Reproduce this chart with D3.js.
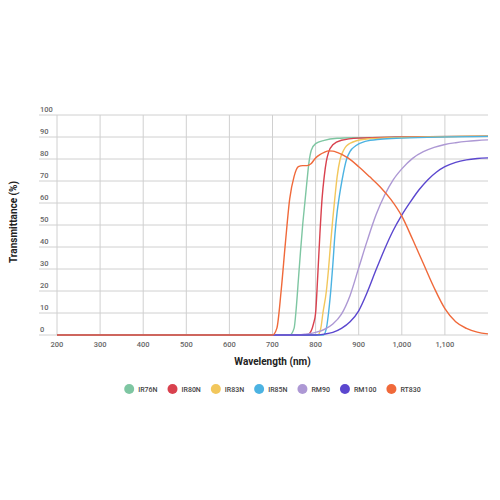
<!DOCTYPE html>
<html>
<head>
<meta charset="utf-8">
<script src="https://cdn.jsdelivr.net/npm/d3@7"></script>
<style>
  body { margin: 0; background: #fff; }
  text { font-family: Roboto, "Noto Sans", sans-serif; }
</style>
</head>
<body>
<svg id="chart" width="500" height="500"></svg>
<script>
// tick labels
var xTicks = [200, 300, 400, 500, 600, 700, 800, 900, 1000, 1100];
var yTicks = [0, 10, 20, 30, 40, 50, 60, 70, 80, 90, 100];

// series: [wavelength nm, transmittance %]
var IR76N = [[200,0],[740,0],[750,3],[755,12],[760,25],[765,38],[770,50],[775,60],[780,70],[785,79],[790,84],[800,87],[820,88.5],[850,89.4],[900,89.7],[1000,90],[1200,90.4]];
var IR80N = [[200,0],[780,0],[790,2],[795,5],[800,10],[805,27],[810,46],[815,62],[820,72],[825,79],[830,83],[840,86.5],[860,88.5],[900,89.5],[1000,90],[1200,90.4]];
var IR83N = [[200,0],[805,0],[812,3],[817,10],[825,20],[830,30],[835,42],[840,53],[845,63],[850,72],[857,80],[865,84],[872,86],[895,88.3],[930,89.3],[1000,89.8],[1200,90.4]];
var IR85N = [[200,0],[818,0],[825,3],[830,10],[836,22],[840,32],[845,46],[850,56],[855,63],[861,70],[872,80],[880,83.5],[893,86],[915,88],[950,89],[1000,89.5],[1200,90.3]];
var RM90  = [[200,0],[760,0],[780,0.5],[800,1.2],[820,2.5],[840,5],[860,9.5],[880,18],[900,30.5],[920,43],[940,54.5],[960,63.5],[980,70.5],[1000,75.5],[1025,80.3],[1050,83.3],[1075,85.3],[1100,86.6],[1125,87.4],[1150,88],[1175,88.4],[1200,88.7]];
var RM100 = [[200,0],[800,0],[820,0.4],[840,1.2],[860,3],[880,6],[900,11],[920,19.5],[940,29.5],[960,39],[980,47.5],[1000,54.5],[1020,60.5],[1040,66],[1060,70.5],[1080,74],[1100,76.5],[1125,78.5],[1150,79.6],[1175,80.2],[1200,80.5]];
var RT830 = [[200,0],[700,0],[710,3],[720,20],[730,42],[740,62],[750,72],[760,76.5],[770,77],[780,77],[790,78],[800,80.5],[810,82],[820,83],[830,83.7],[840,83.6],[850,83],[875,80.5],[900,76.5],[925,72],[950,67.3],[975,61.5],[1000,54],[1025,43.5],[1050,32.5],[1075,21.5],[1100,12],[1125,6],[1150,3],[1175,1.3],[1200,0.5]];

var seriesNames = ["IR76N", "IR80N", "IR83N", "IR85N", "RM90", "RM100", "RT830"];
var seriesData = [IR76N, IR80N, IR83N, IR85N, RM90, RM100, RT830];
var seriesColors = ["#7ec6a2", "#d9414e", "#f2c75c", "#4cb3e2", "#ad98d4", "#5b47cf", "#f0693a"];

var svg = d3.select("#chart");
var x = d3.scaleLinear().domain([200, 1200]).range([57, 488]);
var y = d3.scaleLinear().domain([0, 100]).range([335, 115]);

// grid
svg.append("g").selectAll("line.h")
  .data(yTicks).enter().append("line")
  .attr("x1", 39).attr("x2", x(1200))
  .attr("y1", d => y(d)).attr("y2", d => y(d))
  .attr("stroke", "#d0d0d0").attr("stroke-width", 1);

svg.append("g").selectAll("line.v")
  .data(xTicks).enter().append("line")
  .attr("x1", d => x(d)).attr("x2", d => x(d))
  .attr("y1", y(100)).attr("y2", y(0))
  .attr("stroke", "#d0d0d0").attr("stroke-width", 1);

// tick labels
svg.append("g").selectAll("text")
  .data(yTicks).enter().append("text")
  .attr("x", 40).attr("y", d => y(d) - 3.5)
  .attr("font-size", 7.5).attr("font-weight", 500).attr("fill", "#666")
  .text(d => d);

svg.append("g").selectAll("text")
  .data(xTicks).enter().append("text")
  .attr("x", d => x(d)).attr("y", y(0) + 12)
  .attr("text-anchor", "middle")
  .attr("font-size", 7.5).attr("font-weight", 500).attr("fill", "#666")
  .text(d3.format(","));

// axis titles
svg.append("text")
  .attr("x", (x(200) + x(1200)) / 2).attr("y", 365)
  .attr("text-anchor", "middle")
  .attr("font-size", 10).attr("font-weight", "bold").attr("fill", "#222")
  .text("Wavelength (nm)");

svg.append("text")
  .attr("transform", "translate(17," + (y(50) - 3) + ") rotate(-90)")
  .attr("text-anchor", "middle")
  .attr("font-size", 10).attr("font-weight", "bold").attr("fill", "#222")
  .text("Transmittance (%)");

// curves
var line = d3.line()
  .x(d => x(d[0]))
  .y(d => y(d[1]))
  .curve(d3.curveMonotoneX);

svg.append("g").selectAll("path")
  .data(seriesData).enter().append("path")
  .attr("d", line)
  .attr("fill", "none")
  .attr("stroke", (d, i) => seriesColors[i])
  .attr("stroke-width", 1.4);

// legend, centred under the plot
var legend = svg.append("g");
var items = legend.selectAll("g")
  .data(seriesNames).enter().append("g");
items.append("circle")
  .attr("r", 5).attr("cx", 5).attr("cy", 0)
  .attr("fill", (d, i) => seriesColors[i]);
items.append("text")
  .attr("x", 14).attr("y", 2.5)
  .attr("font-size", 7).attr("font-weight", 500).attr("fill", "#444")
  .text(d => d);

var offs = 0;
items.each(function () {
  var w = 14 + this.querySelector("text").getComputedTextLength();
  d3.select(this).attr("transform", "translate(" + offs + ",0)");
  offs += w + 10;
});
offs -= 10;
legend.attr("transform", "translate(" + ((x(200) + x(1200)) / 2 - offs / 2) + ",389)");
</script>
</body>
</html>
